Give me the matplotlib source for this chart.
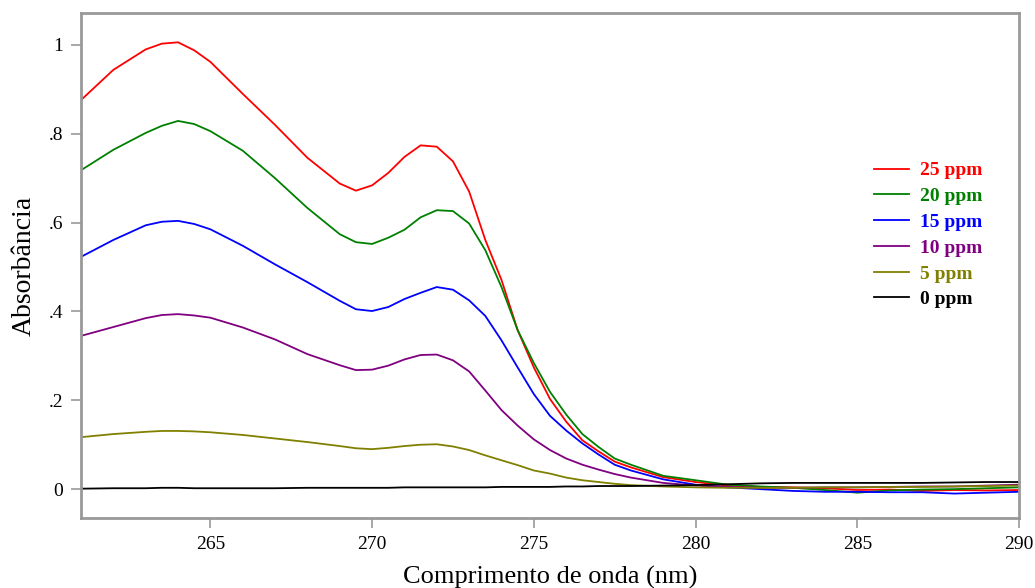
import matplotlib
matplotlib.use('Agg')
import matplotlib.pyplot as plt
from matplotlib.ticker import FuncFormatter

plt.rcParams['font.family'] = ['Liberation Serif', 'DejaVu Serif']

# comprimento de onda (nm)
wl = [261, 262, 263, 263.5, 264, 264.5, 265, 266, 267, 268, 269, 269.5, 270, 270.5, 271, 271.5,
      272, 272.5, 273, 273.5, 274, 274.5, 275, 275.5, 276, 276.5, 277, 277.5, 278,
      279, 280, 281, 282, 283, 284, 285, 286, 287, 288, 289, 290]

abs25 = [0.876, 0.944, 0.990, 1.003, 1.006, 0.988, 0.962, 0.890, 0.820, 0.746, 0.688, 0.672, 0.684, 0.712, 0.748, 0.774,
         0.771, 0.738, 0.670, 0.561, 0.471, 0.358, 0.274, 0.203, 0.152, 0.110, 0.085, 0.062, 0.049,
         0.027, 0.016, 0.008, 0.005, 0.004, 0.002, -0.002, -0.001, -0.004, -0.002, -0.003, -0.002]
abs20 = [0.718, 0.764, 0.802, 0.818, 0.829, 0.822, 0.806, 0.762, 0.700, 0.633, 0.574, 0.556, 0.552, 0.566, 0.584, 0.612,
         0.628, 0.626, 0.598, 0.538, 0.455, 0.358, 0.284, 0.219, 0.168, 0.124, 0.095, 0.069, 0.055,
         0.030, 0.020, 0.010, 0.006, 0.003, -0.002, -0.008, -0.003, -0.001, 0.000, 0.002, 0.004]
abs15 = [0.523, 0.561, 0.594, 0.602, 0.604, 0.597, 0.585, 0.548, 0.506, 0.466, 0.424, 0.405, 0.401, 0.410, 0.428, 0.442,
         0.455, 0.449, 0.425, 0.390, 0.335, 0.274, 0.214, 0.165, 0.132, 0.103, 0.078, 0.055, 0.042,
         0.022, 0.010, 0.004, 0.000, -0.004, -0.006, -0.006, -0.007, -0.007, -0.010, -0.008, -0.006]
abs10 = [0.345, 0.365, 0.385, 0.392, 0.394, 0.391, 0.386, 0.364, 0.337, 0.304, 0.279, 0.268, 0.269, 0.278, 0.292, 0.302,
         0.303, 0.290, 0.265, 0.222, 0.178, 0.143, 0.112, 0.088, 0.069, 0.055, 0.044, 0.034, 0.026,
         0.014, 0.008, 0.005, 0.003, 0.003, 0.004, 0.004, 0.005, 0.006, 0.006, 0.008, 0.010]
abs5 = [0.117, 0.124, 0.129, 0.131, 0.131, 0.130, 0.128, 0.122, 0.114, 0.106, 0.097, 0.092, 0.090, 0.093, 0.097, 0.100,
        0.101, 0.096, 0.088, 0.076, 0.065, 0.054, 0.042, 0.035, 0.026, 0.020, 0.016, 0.012, 0.009,
        0.006, 0.004, 0.003, 0.003, 0.003, 0.004, 0.004, 0.005, 0.005, 0.006, 0.007, 0.008]
abs0 = [0.001, 0.002, 0.002, 0.003, 0.003, 0.002, 0.002, 0.002, 0.002, 0.003, 0.003, 0.003, 0.003, 0.003, 0.004, 0.004,
        0.004, 0.004, 0.004, 0.004, 0.005, 0.005, 0.005, 0.005, 0.006, 0.006, 0.007, 0.007, 0.007,
        0.008, 0.009, 0.011, 0.013, 0.014, 0.014, 0.014, 0.014, 0.014, 0.015, 0.016, 0.016]

labels = ['25 ppm', '20 ppm', '15 ppm', '10 ppm', '5 ppm', '0 ppm']
colors = ['#ff0000', '#008000', '#0000ff', '#800080', '#808000', '#000000']
series = [abs25, abs20, abs15, abs10, abs5, abs0]

fig = plt.figure(figsize=(10.35, 5.88), dpi=100)
ax = fig.add_axes([81/1035, 70/588, 938/1035, 505/588])

for y, lab, c in zip(series, labels, colors):
    ax.plot(wl, y, color=c, lw=1.3, label=lab)

ax.set_xlim(261, 290)
ax.set_ylim(-0.065, 1.072)
ax.set_xticks([265, 270, 275, 280, 285, 290])
ax.set_yticks([0, 0.2, 0.4, 0.6, 0.8, 1.0])


def fmt(v, pos):
    s = '%g' % v
    if s.startswith('0.'):
        s = s[1:]
    return s


ax.yaxis.set_major_formatter(FuncFormatter(fmt))

for sp in ax.spines.values():
    sp.set_color('#999999')
    sp.set_linewidth(2)
ax.tick_params(direction='out', length=7, width=1.2, color='#999999', labelsize=14, pad=6)

ax.set_xlabel('Comprimento de onda (nm)', fontsize=19, labelpad=9)
ax.set_ylabel('Absorbância', fontsize=20, labelpad=8)

leg = ax.legend(loc='upper right', bbox_to_anchor=(0.98, 0.74), frameon=False,
                labelcolor='linecolor', handlelength=1.8, handletextpad=0.6,
                labelspacing=0.42, prop={'weight': 'bold', 'size': 14})

fig.savefig('out.png', dpi=100)
